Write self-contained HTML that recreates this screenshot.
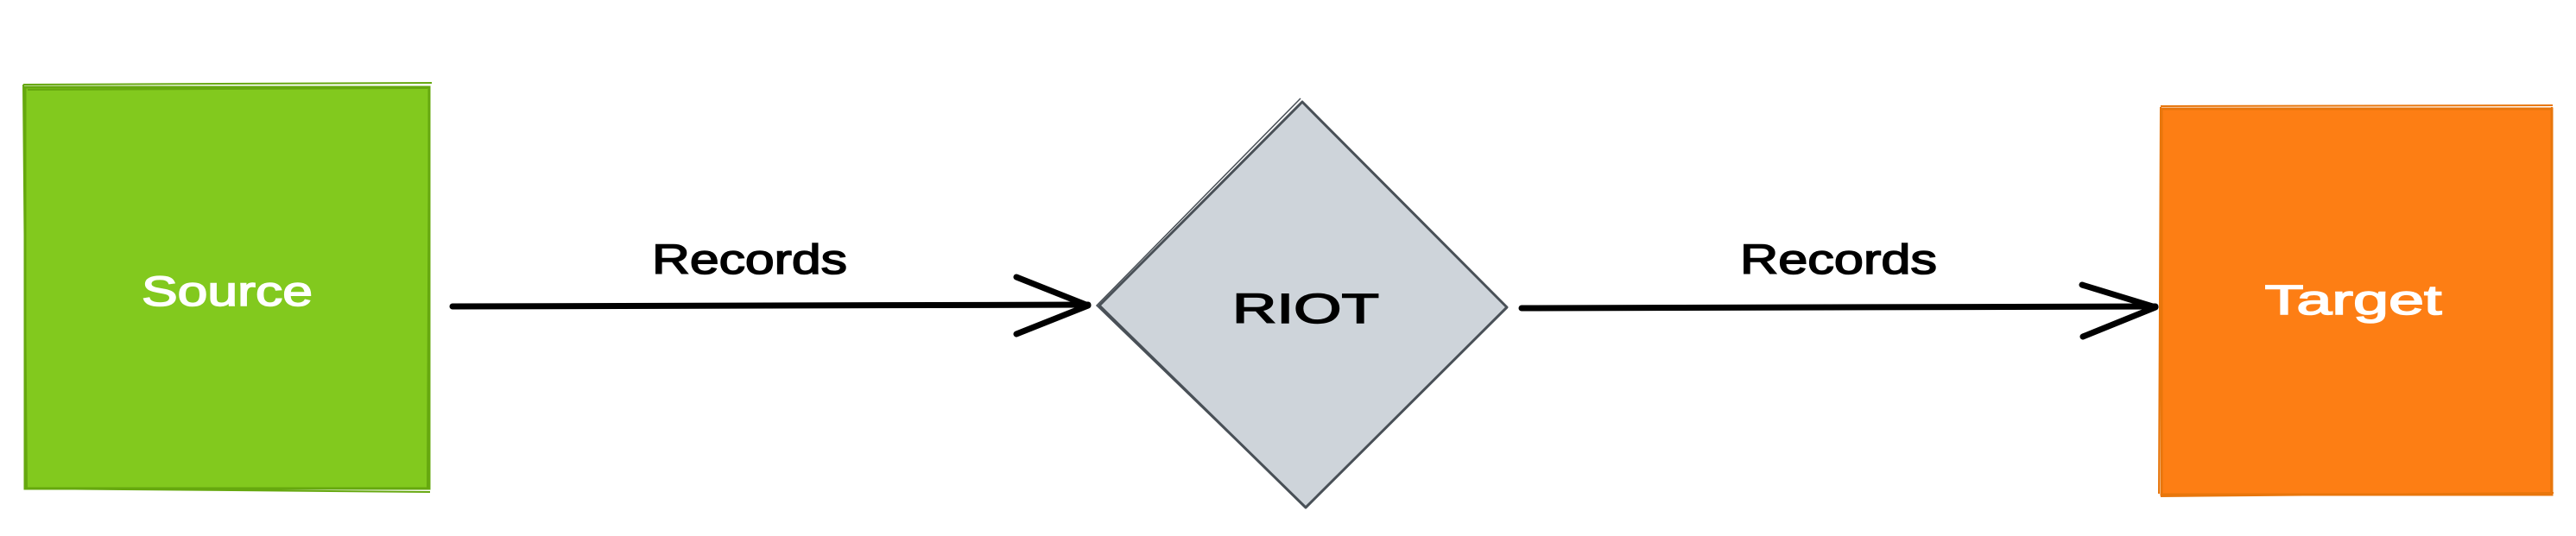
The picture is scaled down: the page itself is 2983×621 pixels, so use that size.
<!DOCTYPE html>
<html><head><meta charset="utf-8"><style>html,body{margin:0;padding:0;background:#fff;width:2983px;height:621px;overflow:hidden}</style></head>
<body>
<svg width="2983" height="621" viewBox="0 0 2983 621" xmlns="http://www.w3.org/2000/svg" font-family="'Liberation Sans', sans-serif">
<rect x="29" y="101" width="468" height="465" fill="#82c91e" stroke="#66a80f" stroke-width="3"/>
<path d="M27 98 L500 96 M32 104 L495 102 M27 98 L31 565 M497 100 L495 566 M30 566 L498 570" stroke="#66a80f" stroke-width="2" fill="none"/>
<text x="263" y="354" font-size="48" fill="#fff" stroke="#fff" stroke-width="1.5" text-anchor="middle" textLength="198" lengthAdjust="spacingAndGlyphs">Source</text>

<line x1="524" y1="355" x2="1260" y2="353" stroke="#000" stroke-width="7" stroke-linecap="round"/>
<polyline points="1177,321 1260,354 1177,387" fill="none" stroke="#000" stroke-width="7" stroke-linecap="round" stroke-linejoin="round"/>
<text x="868" y="317" font-size="48" fill="#000" stroke="#000" stroke-width="1.5" text-anchor="middle" textLength="226" lengthAdjust="spacingAndGlyphs">Records</text>

<polygon points="1508,118 1745,356 1512,588 1273,354" fill="#ced4da" stroke="#495057" stroke-width="3" stroke-linejoin="round"/>
<path d="M1506,114 L1270,354 L1508,584" fill="none" stroke="#495057" stroke-width="1.5"/>
<text x="1512" y="374" font-size="48" fill="#000" stroke="#000" stroke-width="1.5" text-anchor="middle" textLength="170" lengthAdjust="spacingAndGlyphs">RIOT</text>

<line x1="1762" y1="357" x2="2496" y2="355" stroke="#000" stroke-width="7" stroke-linecap="round"/>
<polyline points="2411,330 2496,356 2412,390" fill="none" stroke="#000" stroke-width="7" stroke-linecap="round" stroke-linejoin="round"/>
<text x="2129" y="317" font-size="48" fill="#000" stroke="#000" stroke-width="1.5" text-anchor="middle" textLength="228" lengthAdjust="spacingAndGlyphs">Records</text>

<rect x="2503" y="126" width="452" height="447" fill="#fd7e14" stroke="#e8760c" stroke-width="3"/>
<path d="M2502 123 L2956 122 M2502 124 L2500 572 M2955 124 L2954 574 M2502 575 L2957 571" stroke="#e8760c" stroke-width="2" fill="none"/>
<text x="2725" y="364" font-size="48" fill="#fff" stroke="#fff" stroke-width="1.5" text-anchor="middle" textLength="205" lengthAdjust="spacingAndGlyphs">Target</text>
</svg>
</body></html>
